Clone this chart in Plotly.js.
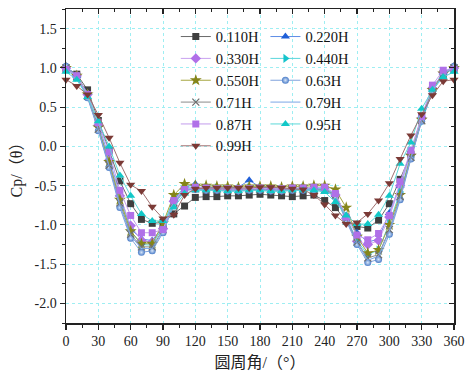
<!DOCTYPE html>
<html>
<head>
<meta charset="utf-8">
<script src="https://cdn.plot.ly/plotly-3.0.1.min.js"></script>
<style>html,body{margin:0;padding:0;background:#fff;}#chart{width:476px;height:375px;}</style>
</head>
<body>
<div id="chart"></div>
<script>
// Angles (degrees)
const angles = [0,10,20,30,40,50,60,70,80,90,100,110,120,130,140,150,160,170,180,190,200,210,220,230,240,250,260,270,280,290,300,310,320,330,340,350,360];

// Series names
const seriesNames = ["0.110H","0.220H","0.330H","0.440H","0.550H","0.63H","0.71H","0.79H","0.87H","0.95H","0.99H"];

// Cp values per series
const cp_0110 = [1.00,0.92,0.72,0.33,-0.05,-0.44,-0.73,-0.93,-0.98,-0.97,-0.86,-0.76,-0.65,-0.64,-0.64,-0.63,-0.63,-0.62,-0.61,-0.62,-0.63,-0.64,-0.63,-0.62,-0.69,-0.78,-0.95,-1.02,-1.04,-0.94,-0.73,-0.42,-0.10,0.38,0.72,0.93,1.00];
const cp_0220 = [1.02,0.90,0.68,0.28,-0.15,-0.62,-1.05,-1.18,-1.20,-1.02,-0.68,-0.52,-0.48,-0.52,-0.53,-0.53,-0.52,-0.43,-0.52,-0.53,-0.54,-0.54,-0.53,-0.54,-0.55,-0.62,-0.88,-1.10,-1.22,-1.18,-0.85,-0.50,-0.08,0.38,0.74,0.94,1.02];
const cp_0330 = [1.00,0.90,0.66,0.27,-0.18,-0.63,-1.01,-1.20,-1.22,-1.05,-0.70,-0.54,-0.53,-0.54,-0.54,-0.55,-0.55,-0.54,-0.54,-0.55,-0.55,-0.54,-0.54,-0.53,-0.53,-0.62,-0.92,-1.21,-1.25,-1.20,-0.90,-0.50,-0.10,0.36,0.74,0.94,1.00];
const cp_0440 = [0.98,0.88,0.66,0.25,-0.20,-0.68,-1.08,-1.25,-1.26,-1.02,-0.66,-0.52,-0.52,-0.53,-0.53,-0.54,-0.54,-0.53,-0.53,-0.54,-0.54,-0.54,-0.53,-0.53,-0.54,-0.60,-0.90,-1.20,-1.38,-1.32,-0.98,-0.58,-0.12,0.35,0.72,0.93,0.98];
const cp_0550 = [1.00,0.90,0.66,0.24,-0.20,-0.68,-1.08,-1.24,-1.24,-0.98,-0.62,-0.48,-0.50,-0.50,-0.51,-0.51,-0.52,-0.51,-0.51,-0.51,-0.52,-0.51,-0.51,-0.50,-0.50,-0.55,-0.78,-1.15,-1.36,-1.32,-1.00,-0.62,-0.12,0.34,0.72,0.93,1.00];
const cp_063 = [1.02,0.88,0.62,0.20,-0.27,-0.78,-1.17,-1.35,-1.33,-1.10,-0.75,-0.56,-0.55,-0.56,-0.56,-0.57,-0.57,-0.56,-0.56,-0.57,-0.57,-0.56,-0.56,-0.56,-0.56,-0.64,-0.95,-1.25,-1.48,-1.44,-1.12,-0.68,-0.16,0.32,0.70,0.92,1.02];
const cp_071 = [1.00,0.89,0.64,0.22,-0.24,-0.72,-1.12,-1.28,-1.28,-1.06,-0.72,-0.55,-0.54,-0.55,-0.55,-0.56,-0.56,-0.55,-0.55,-0.56,-0.56,-0.55,-0.55,-0.55,-0.55,-0.62,-0.93,-1.22,-1.42,-1.38,-1.06,-0.64,-0.14,0.33,0.71,0.92,1.00];
const cp_079 = [1.01,0.89,0.63,0.21,-0.25,-0.75,-1.14,-1.30,-1.30,-1.08,-0.73,-0.55,-0.55,-0.55,-0.56,-0.56,-0.56,-0.56,-0.55,-0.56,-0.56,-0.56,-0.55,-0.55,-0.56,-0.63,-0.94,-1.23,-1.45,-1.40,-1.08,-0.66,-0.15,0.33,0.70,0.92,1.01];
const cp_087 = [0.98,0.90,0.66,0.30,-0.07,-0.56,-0.88,-1.10,-1.10,-1.06,-0.69,-0.55,-0.52,-0.53,-0.54,-0.54,-0.54,-0.54,-0.53,-0.54,-0.54,-0.53,-0.53,-0.52,-0.52,-0.60,-0.90,-1.13,-1.19,-1.11,-0.88,-0.45,-0.05,0.38,0.78,0.97,0.98];
const cp_095 = [0.95,0.85,0.63,0.32,0.00,-0.37,-0.63,-0.86,-0.95,-0.95,-0.78,-0.60,-0.56,-0.56,-0.56,-0.57,-0.57,-0.56,-0.56,-0.57,-0.57,-0.56,-0.56,-0.56,-0.58,-0.71,-0.88,-0.99,-0.99,-0.87,-0.63,-0.22,0.05,0.48,0.72,0.88,0.95];
const cp_099 = [0.85,0.77,0.66,0.40,0.11,-0.21,-0.49,-0.57,-0.77,-0.92,-0.87,-0.62,-0.54,-0.53,-0.53,-0.53,-0.53,-0.53,-0.52,-0.52,-0.53,-0.54,-0.55,-0.62,-0.74,-0.88,-0.99,-0.97,-0.86,-0.69,-0.47,-0.16,0.14,0.41,0.65,0.83,0.85];

// Tick labels
const xTicks = [0,30,60,90,120,150,180,210,240,270,300,330,360];
const yTicks = [-2.0,-1.5,-1.0,-0.5,0.0,0.5,1.0,1.5];
const yTickText = ["-2.0","-1.5","-1.0","-0.5","0.0","0.5","1.0","1.5"];

const allValues = [cp_0110,cp_0220,cp_0330,cp_0440,cp_0550,cp_063,cp_071,cp_079,cp_087,cp_095,cp_099];

const styles = [
  {mc:'#3f3f3f', lc:'#6a6a6a', sym:'square', size:7},
  {mc:'#1f5fd8', lc:'#5d8de6', sym:'triangle-up', size:8},
  {mc:'#b070e8', lc:'#c9a2f0', sym:'diamond', size:8},
  {mc:'#16c4cc', lc:'#5ad6dc', sym:'triangle-right', size:8},
  {mc:'#85851a', lc:'#a6a640', sym:'star', size:9},
  {mc:'#4a7cc8', lc:'#7ea2dc', sym:'circle', size:7, grad:'#d8e6f8'},
  {mc:'#707070', lc:'#8a8a8a', sym:'x-thin', size:7, lw:1.3},
  {mc:'#7aa6e6', lc:'#7aa6e6', sym:null},
  {mc:'#b070e8', lc:'#c29cec', sym:'square', size:7},
  {mc:'#12c8c8', lc:'#5cd8d8', sym:'triangle-up', size:8},
  {mc:'#7b3a36', lc:'#a07070', sym:'triangle-down', size:8}
];

const traces = seriesNames.map((name,i)=>{
  const s = styles[i];
  const t = {
    type:'scatter', x:angles, y:allValues[i], name:name,
    mode: s.sym ? 'lines+markers' : 'lines',
    line:{color:s.lc, width:1},
    cliponaxis:false,
    legend: (i % 2 === 0) ? 'legend' : 'legend2'
  };
  if (s.sym) {
    t.marker = {symbol:s.sym, size:s.size, color:s.mc, line:{width:s.lw||0, color:s.mc}};
    if (s.grad) t.marker.gradient = {type:'radial', color:s.grad};
  }
  return t;
});

// empty trace to carry the mirrored axes (top/right, inward ticks)
traces.push({type:'scatter', x:[], y:[], xaxis:'x2', yaxis:'y2', showlegend:false, hoverinfo:'skip'});

const fontSerif = 'Liberation Serif, Times New Roman, serif';
const fontCJK = 'Liberation Serif, Noto Sans CJK SC, serif';

const legendBase = {
  orientation:'v', xanchor:'left', yanchor:'top',
  bgcolor:'rgba(0,0,0,0)', borderwidth:0,
  font:{family:fontSerif, size:14.5, color:'#111'},
  tracegroupgap:0, itemwidth:30, traceorder:'normal'
};

const layout = {
  width:476, height:375,
  margin:{l:66, r:22, t:9, b:52},
  paper_bgcolor:'#fff', plot_bgcolor:'#fff',
  showlegend:true,
  legend:Object.assign({}, legendBase, {x:0.283, y:0.963}),
  legend2:Object.assign({}, legendBase, {x:0.514, y:0.963}),
  xaxis:{
    range:[0,360], tickvals:xTicks, ticktext:xTicks.map(String),
    ticks:'outside', ticklen:5, tickwidth:1.2, tickcolor:'#222',
    minor:{dtick:15, tick0:0, ticks:'outside', ticklen:3, tickwidth:1, tickcolor:'#222', showgrid:false},
    showline:true, linecolor:'#222', linewidth:1.5,
    showgrid:true, gridcolor:'#9eeef2', griddash:'dot', gridwidth:1,
    zeroline:false,
    tickfont:{family:fontSerif, size:14, color:'#222'},
    title:{text:'圆周角/（°）', font:{family:fontCJK, size:16, color:'#222'}, standoff:8}
  },
  yaxis:{
    range:[-2.25,1.75], tickvals:yTicks, ticktext:yTickText,
    ticks:'outside', ticklen:5, tickwidth:1.2, tickcolor:'#222',
    minor:{dtick:0.25, tick0:0, ticks:'outside', ticklen:3, tickwidth:1, tickcolor:'#222', showgrid:false},
    showline:true, linecolor:'#222', linewidth:1.5,
    showgrid:true, gridcolor:'#9eeef2', griddash:'dot', gridwidth:1,
    zeroline:false,
    tickfont:{family:fontSerif, size:14, color:'#222'},
    title:{text:'Cp/（θ）', font:{family:fontCJK, size:16, color:'#222'}, standoff:8}
  },
  xaxis2:{
    overlaying:'x', side:'top', range:[0,360], tickvals:xTicks,
    ticks:'inside', ticklen:5, tickwidth:1.2, tickcolor:'#222',
    minor:{dtick:15, tick0:0, ticks:'inside', ticklen:3, tickwidth:1, tickcolor:'#222'},
    showticklabels:false, showline:true, linecolor:'#222', linewidth:1.5,
    showgrid:false, zeroline:false
  },
  yaxis2:{
    overlaying:'y', side:'right', range:[-2.25,1.75], tickvals:yTicks,
    ticks:'inside', ticklen:5, tickwidth:1.2, tickcolor:'#222',
    minor:{dtick:0.25, tick0:0, ticks:'inside', ticklen:3, tickwidth:1, tickcolor:'#222'},
    showticklabels:false, showline:true, linecolor:'#222', linewidth:1.5,
    showgrid:false, zeroline:false
  }
};

Plotly.newPlot('chart', traces, layout, {displayModeBar:false, staticPlot:true});
</script>
</body>
</html>
